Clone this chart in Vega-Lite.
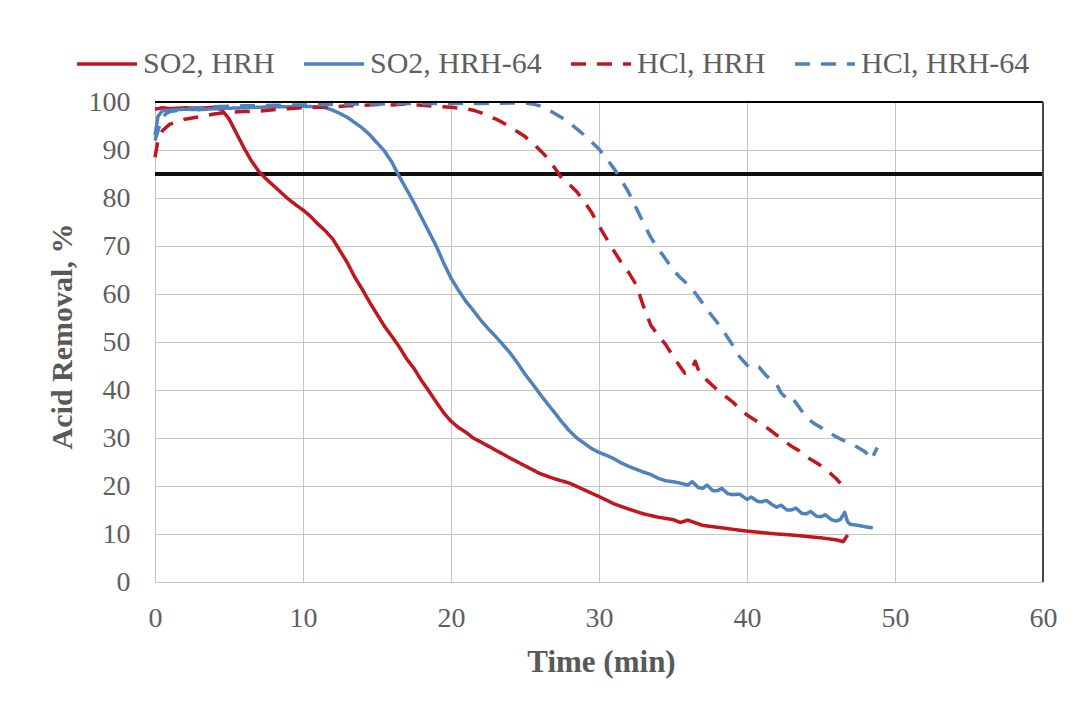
{
  "$schema": "https://vega.github.io/schema/vega-lite/v6.json",
  "width": 888,
  "height": 480,
  "autosize": {"type": "none"},
  "padding": {"left": 155, "top": 102, "right": 33, "bottom": 127},
  "background": "white",
  "config": {
    "view": {"stroke": null},
    "font": "Liberation Serif",
    "axis": {
      "domain": false,
      "ticks": false,
      "grid": true,
      "gridColor": "#c4c4c4",
      "gridWidth": 1,
      "labelFlush": false,
      "labelFont": "Liberation Serif",
      "labelFontSize": 28,
      "labelColor": "#5f5f5f",
      "titleFont": "Liberation Serif",
      "titleFontWeight": "bold",
      "titleColor": "#595959"
    },
    "legend": {
      "labelFont": "Liberation Serif",
      "labelFontSize": 30,
      "labelColor": "#5f5f5f",
      "labelLimit": 400,
      "symbolType": "stroke",
      "symbolSize": 3600,
      "symbolStrokeWidth": 4,
      "labelOffset": 4,
      "columnPadding": 22
    }
  },
  "data": {
    "values": [
      {"s": "SO2, HRH", "t": 0, "v": 98.5},
      {"s": "SO2, HRH", "t": 0.5, "v": 98.8},
      {"s": "SO2, HRH", "t": 1, "v": 98.6},
      {"s": "SO2, HRH", "t": 2, "v": 98.8},
      {"s": "SO2, HRH", "t": 3, "v": 98.7},
      {"s": "SO2, HRH", "t": 4, "v": 98.9},
      {"s": "SO2, HRH", "t": 4.5, "v": 98.4},
      {"s": "SO2, HRH", "t": 5, "v": 96.5},
      {"s": "SO2, HRH", "t": 5.5, "v": 93.5},
      {"s": "SO2, HRH", "t": 6, "v": 90.5},
      {"s": "SO2, HRH", "t": 6.5, "v": 87.8},
      {"s": "SO2, HRH", "t": 7, "v": 85.6},
      {"s": "SO2, HRH", "t": 7.5, "v": 84},
      {"s": "SO2, HRH", "t": 8, "v": 82.6},
      {"s": "SO2, HRH", "t": 8.5, "v": 81.2},
      {"s": "SO2, HRH", "t": 9, "v": 79.8},
      {"s": "SO2, HRH", "t": 9.5, "v": 78.6},
      {"s": "SO2, HRH", "t": 10, "v": 77.5},
      {"s": "SO2, HRH", "t": 10.5, "v": 76.2},
      {"s": "SO2, HRH", "t": 11, "v": 74.6},
      {"s": "SO2, HRH", "t": 11.5, "v": 73.2},
      {"s": "SO2, HRH", "t": 12, "v": 71.5},
      {"s": "SO2, HRH", "t": 12.5, "v": 69},
      {"s": "SO2, HRH", "t": 13, "v": 66.5},
      {"s": "SO2, HRH", "t": 13.5, "v": 63.5},
      {"s": "SO2, HRH", "t": 14, "v": 61},
      {"s": "SO2, HRH", "t": 14.5, "v": 58.3},
      {"s": "SO2, HRH", "t": 15, "v": 55.8},
      {"s": "SO2, HRH", "t": 15.5, "v": 53.3},
      {"s": "SO2, HRH", "t": 16, "v": 51.2},
      {"s": "SO2, HRH", "t": 16.5, "v": 49},
      {"s": "SO2, HRH", "t": 17, "v": 46.5},
      {"s": "SO2, HRH", "t": 17.5, "v": 44.5},
      {"s": "SO2, HRH", "t": 18, "v": 42},
      {"s": "SO2, HRH", "t": 18.5, "v": 39.8},
      {"s": "SO2, HRH", "t": 19, "v": 37.5},
      {"s": "SO2, HRH", "t": 19.5, "v": 35.3},
      {"s": "SO2, HRH", "t": 20, "v": 33.5},
      {"s": "SO2, HRH", "t": 20.5, "v": 32.2},
      {"s": "SO2, HRH", "t": 21, "v": 31.2},
      {"s": "SO2, HRH", "t": 21.5, "v": 30},
      {"s": "SO2, HRH", "t": 22, "v": 29.2},
      {"s": "SO2, HRH", "t": 23, "v": 27.5},
      {"s": "SO2, HRH", "t": 24, "v": 25.8},
      {"s": "SO2, HRH", "t": 25, "v": 24.2},
      {"s": "SO2, HRH", "t": 26, "v": 22.6},
      {"s": "SO2, HRH", "t": 27, "v": 21.5},
      {"s": "SO2, HRH", "t": 28, "v": 20.6},
      {"s": "SO2, HRH", "t": 29, "v": 19.2},
      {"s": "SO2, HRH", "t": 30, "v": 17.8},
      {"s": "SO2, HRH", "t": 31, "v": 16.3},
      {"s": "SO2, HRH", "t": 32, "v": 15.2},
      {"s": "SO2, HRH", "t": 33, "v": 14.2},
      {"s": "SO2, HRH", "t": 34, "v": 13.5},
      {"s": "SO2, HRH", "t": 35, "v": 13},
      {"s": "SO2, HRH", "t": 35.5, "v": 12.4},
      {"s": "SO2, HRH", "t": 36, "v": 12.9},
      {"s": "SO2, HRH", "t": 37, "v": 11.8},
      {"s": "SO2, HRH", "t": 38, "v": 11.4},
      {"s": "SO2, HRH", "t": 39, "v": 11},
      {"s": "SO2, HRH", "t": 40, "v": 10.6},
      {"s": "SO2, HRH", "t": 41, "v": 10.3},
      {"s": "SO2, HRH", "t": 42, "v": 10},
      {"s": "SO2, HRH", "t": 43, "v": 9.8},
      {"s": "SO2, HRH", "t": 44, "v": 9.5},
      {"s": "SO2, HRH", "t": 45, "v": 9.2},
      {"s": "SO2, HRH", "t": 46, "v": 8.8},
      {"s": "SO2, HRH", "t": 46.5, "v": 8.4},
      {"s": "SO2, HRH", "t": 46.8, "v": 9.8},

      {"s": "SO2, HRH-64", "t": 0, "v": 93},
      {"s": "SO2, HRH-64", "t": 0.2, "v": 97},
      {"s": "SO2, HRH-64", "t": 0.5, "v": 98.2},
      {"s": "SO2, HRH-64", "t": 1, "v": 98.3},
      {"s": "SO2, HRH-64", "t": 2, "v": 98.5},
      {"s": "SO2, HRH-64", "t": 3, "v": 98.4},
      {"s": "SO2, HRH-64", "t": 4, "v": 98.6},
      {"s": "SO2, HRH-64", "t": 5, "v": 98.7},
      {"s": "SO2, HRH-64", "t": 6, "v": 98.8},
      {"s": "SO2, HRH-64", "t": 7, "v": 98.9},
      {"s": "SO2, HRH-64", "t": 8, "v": 99},
      {"s": "SO2, HRH-64", "t": 9, "v": 99},
      {"s": "SO2, HRH-64", "t": 10, "v": 99.1},
      {"s": "SO2, HRH-64", "t": 11, "v": 99},
      {"s": "SO2, HRH-64", "t": 11.5, "v": 98.8},
      {"s": "SO2, HRH-64", "t": 12, "v": 98.3},
      {"s": "SO2, HRH-64", "t": 12.5, "v": 97.6},
      {"s": "SO2, HRH-64", "t": 13, "v": 96.8},
      {"s": "SO2, HRH-64", "t": 13.5, "v": 95.7},
      {"s": "SO2, HRH-64", "t": 14, "v": 94.6},
      {"s": "SO2, HRH-64", "t": 14.5, "v": 93.2},
      {"s": "SO2, HRH-64", "t": 15, "v": 91.5},
      {"s": "SO2, HRH-64", "t": 15.5, "v": 89.8},
      {"s": "SO2, HRH-64", "t": 16, "v": 87.5},
      {"s": "SO2, HRH-64", "t": 16.5, "v": 84.5},
      {"s": "SO2, HRH-64", "t": 17, "v": 81.8},
      {"s": "SO2, HRH-64", "t": 17.5, "v": 79},
      {"s": "SO2, HRH-64", "t": 18, "v": 76},
      {"s": "SO2, HRH-64", "t": 18.5, "v": 73},
      {"s": "SO2, HRH-64", "t": 19, "v": 70},
      {"s": "SO2, HRH-64", "t": 19.5, "v": 66.5},
      {"s": "SO2, HRH-64", "t": 20, "v": 63.3},
      {"s": "SO2, HRH-64", "t": 20.5, "v": 60.8},
      {"s": "SO2, HRH-64", "t": 21, "v": 58.5},
      {"s": "SO2, HRH-64", "t": 21.5, "v": 56.6},
      {"s": "SO2, HRH-64", "t": 22, "v": 54.6},
      {"s": "SO2, HRH-64", "t": 22.5, "v": 52.8},
      {"s": "SO2, HRH-64", "t": 23, "v": 51.2},
      {"s": "SO2, HRH-64", "t": 23.5, "v": 49.5},
      {"s": "SO2, HRH-64", "t": 24, "v": 47.7},
      {"s": "SO2, HRH-64", "t": 24.5, "v": 45.6},
      {"s": "SO2, HRH-64", "t": 25, "v": 43.3},
      {"s": "SO2, HRH-64", "t": 25.5, "v": 41.3},
      {"s": "SO2, HRH-64", "t": 26, "v": 39.2},
      {"s": "SO2, HRH-64", "t": 26.5, "v": 37.2},
      {"s": "SO2, HRH-64", "t": 27, "v": 35.3},
      {"s": "SO2, HRH-64", "t": 27.5, "v": 33.3},
      {"s": "SO2, HRH-64", "t": 28, "v": 31.5},
      {"s": "SO2, HRH-64", "t": 28.5, "v": 30},
      {"s": "SO2, HRH-64", "t": 29, "v": 28.9},
      {"s": "SO2, HRH-64", "t": 29.5, "v": 27.8},
      {"s": "SO2, HRH-64", "t": 30, "v": 27},
      {"s": "SO2, HRH-64", "t": 30.5, "v": 26.4},
      {"s": "SO2, HRH-64", "t": 31, "v": 25.7},
      {"s": "SO2, HRH-64", "t": 31.5, "v": 24.8},
      {"s": "SO2, HRH-64", "t": 32, "v": 24.1},
      {"s": "SO2, HRH-64", "t": 32.5, "v": 23.5},
      {"s": "SO2, HRH-64", "t": 33, "v": 22.9},
      {"s": "SO2, HRH-64", "t": 33.5, "v": 22.4},
      {"s": "SO2, HRH-64", "t": 34, "v": 21.6},
      {"s": "SO2, HRH-64", "t": 34.5, "v": 21.1},
      {"s": "SO2, HRH-64", "t": 35, "v": 20.9},
      {"s": "SO2, HRH-64", "t": 35.5, "v": 20.6},
      {"s": "SO2, HRH-64", "t": 36, "v": 20.2},
      {"s": "SO2, HRH-64", "t": 36.3, "v": 20.9},
      {"s": "SO2, HRH-64", "t": 36.7, "v": 19.7},
      {"s": "SO2, HRH-64", "t": 37, "v": 19.5},
      {"s": "SO2, HRH-64", "t": 37.3, "v": 20.2},
      {"s": "SO2, HRH-64", "t": 37.7, "v": 19},
      {"s": "SO2, HRH-64", "t": 38, "v": 19},
      {"s": "SO2, HRH-64", "t": 38.3, "v": 19.5},
      {"s": "SO2, HRH-64", "t": 38.7, "v": 18.4},
      {"s": "SO2, HRH-64", "t": 39, "v": 18.2},
      {"s": "SO2, HRH-64", "t": 39.5, "v": 18.3},
      {"s": "SO2, HRH-64", "t": 40, "v": 17.2},
      {"s": "SO2, HRH-64", "t": 40.3, "v": 17.7},
      {"s": "SO2, HRH-64", "t": 40.7, "v": 16.8},
      {"s": "SO2, HRH-64", "t": 41, "v": 16.7},
      {"s": "SO2, HRH-64", "t": 41.3, "v": 17},
      {"s": "SO2, HRH-64", "t": 41.7, "v": 16.1},
      {"s": "SO2, HRH-64", "t": 42, "v": 15.6},
      {"s": "SO2, HRH-64", "t": 42.3, "v": 16},
      {"s": "SO2, HRH-64", "t": 42.7, "v": 15},
      {"s": "SO2, HRH-64", "t": 43, "v": 15},
      {"s": "SO2, HRH-64", "t": 43.3, "v": 15.4},
      {"s": "SO2, HRH-64", "t": 43.7, "v": 14.3},
      {"s": "SO2, HRH-64", "t": 44, "v": 14.2},
      {"s": "SO2, HRH-64", "t": 44.3, "v": 14.7},
      {"s": "SO2, HRH-64", "t": 44.7, "v": 13.7},
      {"s": "SO2, HRH-64", "t": 45, "v": 13.6},
      {"s": "SO2, HRH-64", "t": 45.3, "v": 14},
      {"s": "SO2, HRH-64", "t": 45.7, "v": 13},
      {"s": "SO2, HRH-64", "t": 46, "v": 12.7},
      {"s": "SO2, HRH-64", "t": 46.3, "v": 13},
      {"s": "SO2, HRH-64", "t": 46.6, "v": 14.5},
      {"s": "SO2, HRH-64", "t": 46.8, "v": 12.5},
      {"s": "SO2, HRH-64", "t": 47, "v": 12},
      {"s": "SO2, HRH-64", "t": 47.5, "v": 11.8},
      {"s": "SO2, HRH-64", "t": 48, "v": 11.5},
      {"s": "SO2, HRH-64", "t": 48.5, "v": 11.3},

      {"s": "HCl, HRH", "t": 0, "v": 88.5},
      {"s": "HCl, HRH", "t": 0.2, "v": 92},
      {"s": "HCl, HRH", "t": 0.5, "v": 94},
      {"s": "HCl, HRH", "t": 1, "v": 95.4},
      {"s": "HCl, HRH", "t": 1.5, "v": 95.8},
      {"s": "HCl, HRH", "t": 2, "v": 96.4},
      {"s": "HCl, HRH", "t": 3, "v": 96.9},
      {"s": "HCl, HRH", "t": 4, "v": 97.5},
      {"s": "HCl, HRH", "t": 5, "v": 97.9},
      {"s": "HCl, HRH", "t": 6, "v": 98},
      {"s": "HCl, HRH", "t": 7, "v": 98.1},
      {"s": "HCl, HRH", "t": 8, "v": 98.4},
      {"s": "HCl, HRH", "t": 9, "v": 98.6},
      {"s": "HCl, HRH", "t": 10, "v": 98.8},
      {"s": "HCl, HRH", "t": 11, "v": 98.9},
      {"s": "HCl, HRH", "t": 12, "v": 99},
      {"s": "HCl, HRH", "t": 13, "v": 99.2},
      {"s": "HCl, HRH", "t": 14, "v": 99.3},
      {"s": "HCl, HRH", "t": 15, "v": 99.5},
      {"s": "HCl, HRH", "t": 16, "v": 99.4},
      {"s": "HCl, HRH", "t": 17, "v": 99.6},
      {"s": "HCl, HRH", "t": 18, "v": 99.3},
      {"s": "HCl, HRH", "t": 19, "v": 99.1},
      {"s": "HCl, HRH", "t": 20, "v": 98.9},
      {"s": "HCl, HRH", "t": 21, "v": 98.6},
      {"s": "HCl, HRH", "t": 21.5, "v": 98.3},
      {"s": "HCl, HRH", "t": 22, "v": 97.8},
      {"s": "HCl, HRH", "t": 22.5, "v": 97.1},
      {"s": "HCl, HRH", "t": 23, "v": 96.5},
      {"s": "HCl, HRH", "t": 23.5, "v": 95.7},
      {"s": "HCl, HRH", "t": 24, "v": 94.8},
      {"s": "HCl, HRH", "t": 24.5, "v": 93.8},
      {"s": "HCl, HRH", "t": 25, "v": 92.8},
      {"s": "HCl, HRH", "t": 25.5, "v": 91.5},
      {"s": "HCl, HRH", "t": 26, "v": 90},
      {"s": "HCl, HRH", "t": 26.5, "v": 88.4},
      {"s": "HCl, HRH", "t": 27, "v": 86.3},
      {"s": "HCl, HRH", "t": 27.5, "v": 84},
      {"s": "HCl, HRH", "t": 28, "v": 82.8},
      {"s": "HCl, HRH", "t": 28.5, "v": 81.3},
      {"s": "HCl, HRH", "t": 29, "v": 79.3},
      {"s": "HCl, HRH", "t": 29.5, "v": 77},
      {"s": "HCl, HRH", "t": 30, "v": 74.2},
      {"s": "HCl, HRH", "t": 30.5, "v": 71.6},
      {"s": "HCl, HRH", "t": 31, "v": 69},
      {"s": "HCl, HRH", "t": 31.5, "v": 66.6},
      {"s": "HCl, HRH", "t": 32, "v": 64.5},
      {"s": "HCl, HRH", "t": 32.5, "v": 62},
      {"s": "HCl, HRH", "t": 33, "v": 57.5},
      {"s": "HCl, HRH", "t": 33.5, "v": 53.5},
      {"s": "HCl, HRH", "t": 34, "v": 51.4},
      {"s": "HCl, HRH", "t": 34.5, "v": 49.5},
      {"s": "HCl, HRH", "t": 35, "v": 47},
      {"s": "HCl, HRH", "t": 35.5, "v": 44.8},
      {"s": "HCl, HRH", "t": 35.8, "v": 43.5},
      {"s": "HCl, HRH", "t": 36.2, "v": 44},
      {"s": "HCl, HRH", "t": 36.5, "v": 46},
      {"s": "HCl, HRH", "t": 36.8, "v": 43.5},
      {"s": "HCl, HRH", "t": 37.3, "v": 42},
      {"s": "HCl, HRH", "t": 38, "v": 40},
      {"s": "HCl, HRH", "t": 38.5, "v": 38.8},
      {"s": "HCl, HRH", "t": 39, "v": 37.6},
      {"s": "HCl, HRH", "t": 39.5, "v": 36.1},
      {"s": "HCl, HRH", "t": 40, "v": 34.8},
      {"s": "HCl, HRH", "t": 40.5, "v": 33.8},
      {"s": "HCl, HRH", "t": 41, "v": 32.8},
      {"s": "HCl, HRH", "t": 41.5, "v": 31.8},
      {"s": "HCl, HRH", "t": 42, "v": 30.6},
      {"s": "HCl, HRH", "t": 42.5, "v": 29.4},
      {"s": "HCl, HRH", "t": 43, "v": 28.3},
      {"s": "HCl, HRH", "t": 43.5, "v": 27.4},
      {"s": "HCl, HRH", "t": 44, "v": 26.1},
      {"s": "HCl, HRH", "t": 44.5, "v": 25.2},
      {"s": "HCl, HRH", "t": 45, "v": 24.2},
      {"s": "HCl, HRH", "t": 45.5, "v": 23},
      {"s": "HCl, HRH", "t": 46, "v": 21.6},
      {"s": "HCl, HRH", "t": 46.5, "v": 20},

      {"s": "HCl, HRH-64", "t": 0, "v": 92},
      {"s": "HCl, HRH-64", "t": 0.3, "v": 95},
      {"s": "HCl, HRH-64", "t": 0.7, "v": 97.5},
      {"s": "HCl, HRH-64", "t": 1, "v": 98},
      {"s": "HCl, HRH-64", "t": 2, "v": 98.5},
      {"s": "HCl, HRH-64", "t": 3, "v": 98.8},
      {"s": "HCl, HRH-64", "t": 4, "v": 99},
      {"s": "HCl, HRH-64", "t": 5, "v": 99.1},
      {"s": "HCl, HRH-64", "t": 6, "v": 99.2},
      {"s": "HCl, HRH-64", "t": 8, "v": 99.3},
      {"s": "HCl, HRH-64", "t": 10, "v": 99.4},
      {"s": "HCl, HRH-64", "t": 12, "v": 99.5},
      {"s": "HCl, HRH-64", "t": 14, "v": 99.6},
      {"s": "HCl, HRH-64", "t": 16, "v": 99.6},
      {"s": "HCl, HRH-64", "t": 18, "v": 99.7},
      {"s": "HCl, HRH-64", "t": 20, "v": 99.7},
      {"s": "HCl, HRH-64", "t": 22, "v": 99.7},
      {"s": "HCl, HRH-64", "t": 24, "v": 99.8},
      {"s": "HCl, HRH-64", "t": 25, "v": 99.8},
      {"s": "HCl, HRH-64", "t": 25.5, "v": 99.6},
      {"s": "HCl, HRH-64", "t": 26, "v": 99.2},
      {"s": "HCl, HRH-64", "t": 26.5, "v": 98.5},
      {"s": "HCl, HRH-64", "t": 27, "v": 97.6},
      {"s": "HCl, HRH-64", "t": 27.5, "v": 96.7},
      {"s": "HCl, HRH-64", "t": 28, "v": 95.7},
      {"s": "HCl, HRH-64", "t": 28.5, "v": 94.4},
      {"s": "HCl, HRH-64", "t": 29, "v": 93.1},
      {"s": "HCl, HRH-64", "t": 29.5, "v": 91.7},
      {"s": "HCl, HRH-64", "t": 30, "v": 90.2},
      {"s": "HCl, HRH-64", "t": 30.5, "v": 88.2},
      {"s": "HCl, HRH-64", "t": 31, "v": 86.2},
      {"s": "HCl, HRH-64", "t": 31.5, "v": 83.8},
      {"s": "HCl, HRH-64", "t": 32, "v": 81.2},
      {"s": "HCl, HRH-64", "t": 32.5, "v": 78},
      {"s": "HCl, HRH-64", "t": 33, "v": 74.8},
      {"s": "HCl, HRH-64", "t": 33.5, "v": 71.8},
      {"s": "HCl, HRH-64", "t": 34, "v": 69.4},
      {"s": "HCl, HRH-64", "t": 34.5, "v": 67.3},
      {"s": "HCl, HRH-64", "t": 35, "v": 65},
      {"s": "HCl, HRH-64", "t": 35.5, "v": 63.4},
      {"s": "HCl, HRH-64", "t": 36, "v": 62},
      {"s": "HCl, HRH-64", "t": 36.5, "v": 60.2},
      {"s": "HCl, HRH-64", "t": 37, "v": 58.1},
      {"s": "HCl, HRH-64", "t": 37.5, "v": 56},
      {"s": "HCl, HRH-64", "t": 38, "v": 54},
      {"s": "HCl, HRH-64", "t": 38.5, "v": 51.8},
      {"s": "HCl, HRH-64", "t": 39, "v": 49.5},
      {"s": "HCl, HRH-64", "t": 39.5, "v": 46.9},
      {"s": "HCl, HRH-64", "t": 40, "v": 45.2},
      {"s": "HCl, HRH-64", "t": 40.3, "v": 44.5},
      {"s": "HCl, HRH-64", "t": 40.8, "v": 44.8},
      {"s": "HCl, HRH-64", "t": 41.3, "v": 43},
      {"s": "HCl, HRH-64", "t": 42, "v": 41.2},
      {"s": "HCl, HRH-64", "t": 42.3, "v": 39.4},
      {"s": "HCl, HRH-64", "t": 42.7, "v": 38.2},
      {"s": "HCl, HRH-64", "t": 43, "v": 38.6},
      {"s": "HCl, HRH-64", "t": 43.5, "v": 36.5},
      {"s": "HCl, HRH-64", "t": 44, "v": 34.3},
      {"s": "HCl, HRH-64", "t": 44.5, "v": 33.1},
      {"s": "HCl, HRH-64", "t": 45, "v": 32.2},
      {"s": "HCl, HRH-64", "t": 45.5, "v": 31.2},
      {"s": "HCl, HRH-64", "t": 46, "v": 30.3},
      {"s": "HCl, HRH-64", "t": 46.5, "v": 29.5},
      {"s": "HCl, HRH-64", "t": 47, "v": 28.9},
      {"s": "HCl, HRH-64", "t": 47.5, "v": 28},
      {"s": "HCl, HRH-64", "t": 48, "v": 27.1},
      {"s": "HCl, HRH-64", "t": 48.4, "v": 25.5},
      {"s": "HCl, HRH-64", "t": 48.8, "v": 28}
    ]
  },
  "layer": [
    {
      "mark": {"type": "rule", "color": "#111111", "strokeWidth": 3},
      "encoding": {"y": {"datum": 85, "type": "quantitative"}}
    },
    {
      "mark": {"type": "line", "strokeCap": "butt", "strokeJoin": "round"},
      "encoding": {
        "x": {
          "field": "t", "type": "quantitative",
          "scale": {"domain": [0, 60], "nice": false},
          "axis": {
            "values": [0, 10, 20, 30, 40, 50, 60],
            "title": "Time (min)",
            "titleFontSize": 31,
            "labelPadding": 22,
            "titleX": 446, "titleY": 80,
            "titleAlign": "center", "titleBaseline": "middle"
          }
        },
        "y": {
          "field": "v", "type": "quantitative",
          "scale": {"domain": [0, 100], "nice": false},
          "axis": {
            "values": [0, 10, 20, 30, 40, 50, 60, 70, 80, 90, 100],
            "title": "Acid Removal, %",
            "titleFontSize": 30,
            "labelPadding": 25,
            "titleAngle": -90,
            "titleX": -93, "titleY": 234,
            "titleAlign": "center", "titleBaseline": "middle"
          }
        },
        "color": {
          "field": "s", "type": "nominal",
          "scale": {
            "domain": ["SO2, HRH", "SO2, HRH-64", "HCl, HRH", "HCl, HRH-64"],
            "range": ["#C0161E", "#4F81BD", "#C0161E", "#4F81BD"]
          },
          "legend": {
            "title": null,
            "orient": "none",
            "direction": "horizontal",
            "columns": 4,
            "legendX": -80,
            "legendY": -70
          }
        },
        "strokeDash": {
          "field": "s", "type": "nominal",
          "scale": {
            "domain": ["SO2, HRH", "SO2, HRH-64", "HCl, HRH", "HCl, HRH-64"],
            "range": [[1, 0], [1, 0], [15, 11], [15, 11]]
          },
          "legend": {
            "title": null,
            "orient": "none",
            "direction": "horizontal",
            "columns": 4,
            "legendX": -80,
            "legendY": -70
          }
        },
        "strokeWidth": {
          "field": "s", "type": "nominal",
          "scale": {
            "domain": ["SO2, HRH", "SO2, HRH-64", "HCl, HRH", "HCl, HRH-64"],
            "range": [3.5, 3.5, 4.5, 4.5]
          },
          "legend": null
        }
      }
    },
    {
      "mark": {"type": "rule", "color": "#000000", "strokeWidth": 2},
      "encoding": {"y": {"datum": 100, "type": "quantitative"}}
    },
    {
      "mark": {"type": "rule", "color": "#4a4a4a", "strokeWidth": 2},
      "encoding": {"x": {"datum": 60, "type": "quantitative"}}
    }
  ]
}
